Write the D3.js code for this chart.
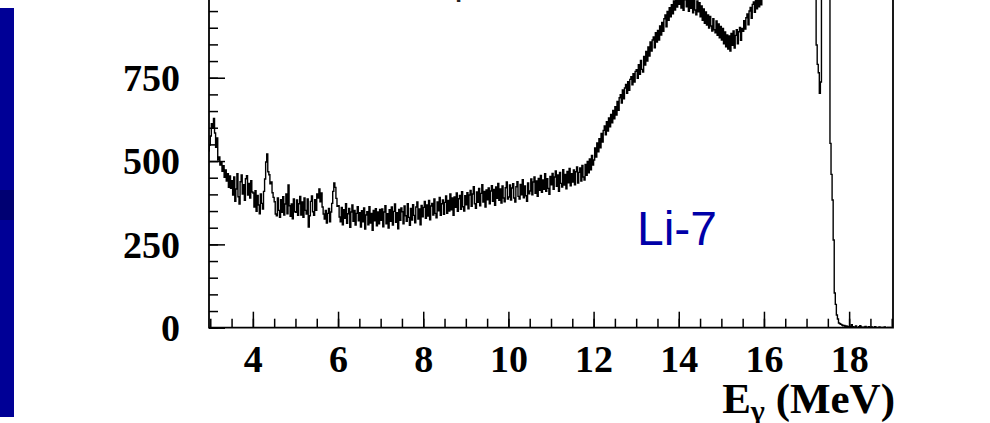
<!DOCTYPE html>
<html>
<head>
<meta charset="utf-8">
<script src="https://cdn.jsdelivr.net/npm/d3@7"></script>
<style>
  html, body { margin: 0; padding: 0; background: #ffffff; }
  svg { display: block; }
</style>
</head>
<body>
<svg id="chart" width="990" height="423"></svg>
<script>
// Gamma-ray energy spectrum, counts per 0.025 MeV bin; first bin starts at 2.95 MeV
const binStart = 2.95;
const binWidth = 0.025;
const counts = [
  530, 548,
  // 3.0 - 4.0 MeV
  575,612,598,628,584,541,569,503,512,488,497,469,486,451,473,440,462,421,455,418,
  441,398,452,379,416,462,393,371,438,458,401,429,382,447,456,398,433,389,441,407,
  // 4.0 - 5.0 MeV
  404,362,411,349,397,368,342,401,373,356,409,446,497,521,468,459,432,437,405,391,
  378,341,336,389,352,331,384,346,393,338,371,401,342,428,366,334,371,327,386,348,
  // 5.0 - 6.0 MeV
  346,383,337,372,394,338,377,331,389,352,341,386,302,336,379,395,348,337,384,352,
  401,389,416,378,404,362,341,326,352,314,343,358,318,347,373,409,434,421,388,364,
  // 6.0 - 7.0 MeV
  366,332,318,361,309,354,328,372,313,342,358,301,347,368,319,352,308,343,363,321,
  345,302,351,318,359,296,338,348,309,363,314,343,292,352,321,357,306,347,312,355,
  // 7.0 - 8.0 MeV
  322,356,303,347,366,312,342,299,354,319,362,308,349,371,316,345,297,355,322,359,
  348,312,365,336,319,372,331,307,358,323,369,337,315,362,377,326,356,309,367,333,
  // 8.0 - 9.0 MeV
  361,379,328,368,335,382,324,365,373,338,386,343,330,377,351,391,337,372,383,340,
  376,395,343,382,350,401,354,389,337,392,361,404,349,387,397,355,408,363,350,396,
  // 9.0 - 10.0 MeV
  369,405,357,398,412,364,401,423,372,358,407,376,418,366,403,429,377,409,362,413,
  384,419,372,410,426,379,415,367,422,388,433,382,416,374,425,389,378,420,437,386,
  // 10.0 - 11.0 MeV
  392,428,383,419,432,389,377,423,438,394,386,430,399,444,390,425,396,379,434,402,
  410,446,399,437,452,403,440,394,448,412,457,406,443,415,462,409,447,418,400,454,
  // 11.0 - 12.0 MeV
  429,463,415,452,470,424,458,409,466,433,422,474,428,460,417,469,435,478,426,462,
  437,473,429,468,482,434,466,479,440,487,452,443,490,457,499,465,506,474,517,488,
  // 12.0 - 13.0 MeV
  503,539,512,554,528,567,540,583,557,592,605,579,618,590,629,603,640,615,652,627,
  663,638,679,652,690,699,674,713,687,719,730,703,738,712,745,753,729,762,737,769,
  // 13.0 - 14.0 MeV
  774,748,789,760,802,775,767,814,788,829,800,842,815,857,830,863,872,840,885,857,
  892,863,905,878,916,889,927,938,903,949,922,960,933,969,942,980,953,989,962,996,
  // 14.0 - 15.0 MeV
  970,1003,959,995,952,984,1007,963,993,949,990,958,1000,945,982,953,939,980,948,975,
  933,965,922,956,913,947,908,938,899,934,905,890,927,894,885,920,877,911,870,904,
  // 15.0 - 16.0 MeV
  863,898,852,887,843,878,836,875,830,883,847,890,839,877,894,852,888,901,862,898,
  889,921,896,930,941,909,950,961,928,970,977,946,983,957,990,963,997,969,1002,1015,
  // 16.0 - 17.0 MeV
  1040,1065,1090,1120,1150,1180,1210,1245,1280,1320,1360,1400,1440,1480,1520,1560,1600,1645,1690,1735,
  1780,1830,1880,1930,1985,2040,2100,2160,2220,2285,2350,2420,2490,2560,2640,2720,2800,2880,2970,3060,
  // 17.0 - 18.0 MeV
  3150,3250,3350,3450,3560,3670,3780,3900,4000,848,790,765,703,737,4500,4800,5000,5150,5200,5100,
  4600,2600,553,460,383,263,104,70,38,26,14,12,10,8,6,7,4,5,3,4,
  // 18.0 - 19.05 MeV
  2,4,9,3,1,2,5,1,0,3,6,2,1,0,2,4,1,0,3,1,
  0,2,1,0,3,1,0,0,2,1,0,1,0,2,0,0,1,0,1,0,
  0,0
];

const xTickValues = [4, 6, 8, 10, 12, 14, 16, 18];
const yTickValues = [0, 250, 500, 750];
const sampleLabel = "Li-7";
const xTitleMain = "E";
const xTitleSub = "γ";
const xTitleUnit = " (MeV)";
const headerFragment = "γ";

const svg = d3.select("#chart");
const plot = { left: 209, right: 893, top: -5.6, bottom: 327.7 };

const x = d3.scaleLinear().domain([2.97, 19.03]).range([plot.left, plot.right]);
const y = d3.scaleLinear().domain([0, 1000]).range([plot.bottom, plot.top]);

// slide accent bar on the left
svg.append("rect").attr("x", 0).attr("y", 8).attr("width", 14).attr("height", 409)
  .attr("fill", "#000096");
svg.append("rect").attr("x", 0).attr("y", 190).attr("width", 14).attr("height", 30)
  .attr("fill", "#000072");

// clip for the histogram
svg.append("defs").append("clipPath").attr("id", "plotClip")
  .append("rect")
  .attr("x", plot.left).attr("y", 0)
  .attr("width", plot.right - plot.left)
  .attr("height", plot.bottom);

// histogram drawn as a step line over bin edges
const edges = counts.map((c, i) => ({ e: binStart + i * binWidth, c }));
edges.push({ e: binStart + counts.length * binWidth, c: counts[counts.length - 1] });

const step = d3.line()
  .x(d => x(d.e))
  .y(d => y(d.c))
  .curve(d3.curveStepAfter);

svg.append("path")
  .datum(edges)
  .attr("clip-path", "url(#plotClip)")
  .attr("d", step)
  .attr("fill", "none")
  .attr("stroke", "#000")
  .attr("stroke-width", 1.4);

const tickFont = "'Liberation Serif', 'Times New Roman', serif";

// x axis: minor ticks every 0.5 MeV, major ticks with labels
const xMinor = d3.axisBottom(x).ticks(32).tickSize(-9).tickFormat("");
svg.append("g").attr("transform", `translate(0,${plot.bottom})`).call(xMinor)
  .call(g => g.select(".domain").remove())
  .call(g => g.selectAll("line").attr("stroke", "#000").attr("stroke-width", 1.5));

const xMajor = d3.axisBottom(x).tickValues(xTickValues).tickSize(-16).tickPadding(17)
  .tickFormat(d3.format("d"));
svg.append("g").attr("transform", `translate(0,${plot.bottom})`).call(xMajor)
  .call(g => g.select(".domain").remove())
  .call(g => g.selectAll("line").attr("stroke", "#000").attr("stroke-width", 1.5))
  .call(g => g.selectAll("text")
    .attr("fill", "#000")
    .style("font-family", tickFont)
    .style("font-weight", "bold")
    .style("font-size", "38px"));

// y axis: minor ticks every 50 counts, labelled major ticks every 250
const yMinor = d3.axisLeft(y).ticks(20).tickSize(-9).tickFormat("");
svg.append("g").attr("transform", `translate(${plot.left},0)`).call(yMinor)
  .call(g => g.select(".domain").remove())
  .call(g => g.selectAll("line").attr("stroke", "#000").attr("stroke-width", 1.5));

const yMajor = d3.axisLeft(y).tickValues(yTickValues).tickSize(-16).tickPadding(29)
  .tickFormat(d3.format("d"));
svg.append("g").attr("transform", `translate(${plot.left},0)`).call(yMajor)
  .call(g => g.select(".domain").remove())
  .call(g => g.selectAll("line").attr("stroke", "#000").attr("stroke-width", 1.5))
  .call(g => g.selectAll("text")
    .attr("fill", "#000")
    .attr("dy", "0.34em")
    .style("font-family", tickFont)
    .style("font-weight", "bold")
    .style("font-size", "38px"));

// frame (top edge lies above the visible area)
svg.append("path")
  .attr("d", `M${plot.left},${plot.top}V${plot.bottom}H${plot.right}V${plot.top}`)
  .attr("fill", "none")
  .attr("stroke", "#000")
  .attr("stroke-width", 1.8);

// axis title
const title = svg.append("text")
  .attr("x", 895).attr("y", 413)
  .attr("text-anchor", "end")
  .attr("fill", "#000")
  .style("font-family", tickFont)
  .style("font-weight", "bold")
  .style("font-size", "43px");
title.append("tspan").text(xTitleMain);
title.append("tspan").attr("dy", 8).style("font-size", "30px").text(xTitleSub);
title.append("tspan").attr("dy", -8).text(xTitleUnit);

// header text, mostly above the visible area
svg.append("text")
  .attr("x", 453).attr("y", -3)
  .attr("fill", "#222")
  .style("font-family", tickFont)
  .style("font-weight", "bold")
  .style("font-size", "24px")
  .text(headerFragment);

// sample label
svg.append("text")
  .attr("x", 637).attr("y", 245)
  .attr("fill", "#0000a8")
  .style("font-family", "'Liberation Sans', Arial, sans-serif")
  .style("font-size", "48px")
  .text(sampleLabel);
</script>
</body>
</html>
